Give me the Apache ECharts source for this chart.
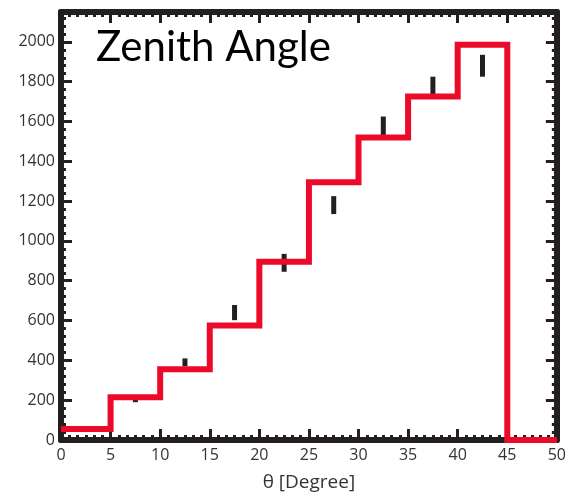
<!DOCTYPE html>
<html><head><meta charset="utf-8">
<script src="https://cdn.jsdelivr.net/npm/echarts@6/dist/echarts.min.js"></script>
<style>html,body{margin:0;padding:0;background:#fff}#c{width:569px;height:497px}</style>
</head><body><div id="c"></div>
<script>
// Histogram (red step line): left bin edges and heights
const binEdges = [0, 5, 10, 15, 20, 25, 30, 35, 40, 45, 50];
const histValues = [55, 215, 355, 575, 895, 1295, 1520, 1725, 1985, 0, 0];
// Data points with error bars
const pointX = [2.5, 7.5, 12.5, 17.5, 22.5, 27.5, 32.5, 37.5, 42.5];
const pointY = [50, 200, 390, 640, 890, 1180, 1575, 1780, 1880];
const pointErr = [10, 10, 20, 38, 45, 45, 50, 45, 55];
const xTicks = [0, 5, 10, 15, 20, 25, 30, 35, 40, 45, 50];
const yTicks = [0, 200, 400, 600, 800, 1000, 1200, 1400, 1600, 1800, 2000];

const chart = echarts.init(document.getElementById('c'));
const lineData = binEdges.map((x, i) => [x, histValues[i]]);
const ptData = pointX.map((x, i) => [x, pointY[i], pointErr[i]]);

const ink = '#231f20';
function axisStyle(split) {
  return {
    axisLine: {show: true, onZero: false, lineStyle: {color: ink, width: 6}},
    axisTick: {show: true, inside: true, length: 11, lineStyle: {color: ink, width: 3}},
    minorTick: {show: true, splitNumber: split, length: 5, lineStyle: {color: ink, width: 3}},
    splitLine: {show: false}, minorSplitLine: {show: false}
  };
}
const labelStyle = {color: '#333', fontFamily: 'Open Sans', fontSize: 16};

chart.setOption({
  animation: false,
  grid: {left: 61, right: 8, top: 12, bottom: 57},
  title: {text: 'Zenith Angle', left: 91, top: 21,
    textStyle: {fontFamily: 'Lato', fontWeight: 'normal', fontSize: 42, color: '#000'}},
  xAxis: [
    Object.assign({type: 'value', min: 0, max: 50, interval: 5, position: 'bottom',
      name: 'θ [Degree]', nameLocation: 'middle', nameGap: 33,
      nameTextStyle: {color: '#333', fontFamily: 'Open Sans', fontSize: 19},
      axisLabel: Object.assign({margin: 7, formatter: v => xTicks.includes(v) ? String(v) : ''}, labelStyle)},
      axisStyle(6)),
    Object.assign({type: 'value', min: 0, max: 50, interval: 5, position: 'top',
      axisLabel: {show: false}}, axisStyle(6))
  ],
  yAxis: [
    Object.assign({type: 'value', min: 0, max: 2150, interval: 200, position: 'left',
      axisLabel: Object.assign({margin: 6, showMaxLabel: false,
        formatter: v => yTicks.includes(v) ? String(v) : ''}, labelStyle)}, axisStyle(5)),
    Object.assign({type: 'value', min: 0, max: 2150, interval: 200, position: 'right',
      axisLabel: {show: false}}, axisStyle(5))
  ],
  series: [
    {
      type: 'custom', xAxisIndex: 0, yAxisIndex: 0, z: 3,
      data: ptData,
      renderItem: function (params, api) {
        const x = api.value(0), y = api.value(1), e = api.value(2);
        const top = api.coord([x, y + e]);
        const bot = api.coord([x, y - e]);
        return {type: 'rect', shape: {x: top[0] - 2.5, y: top[1], width: 5, height: Math.max(bot[1] - top[1], 3)},
          style: {fill: ink}};
      }
    },
    {
      type: 'line', xAxisIndex: 0, yAxisIndex: 0, step: 'end', z: 4,
      data: lineData, symbol: 'none',
      lineStyle: {color: '#ec0a2b', width: 6, join: 'miter', cap: 'butt'}
    }
  ]
});
</script></body></html>
